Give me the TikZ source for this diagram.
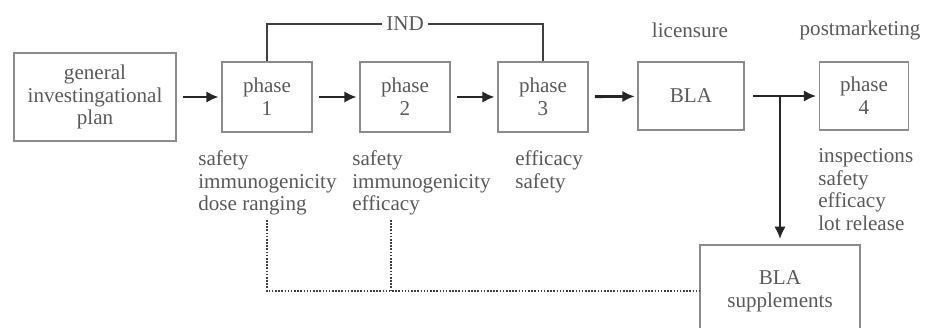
\documentclass[tikz,border=0pt]{standalone}
\usepackage{fontspec}
\setmainfont{Liberation Serif}
\usetikzlibrary{arrows.meta}

\begin{document}
\begin{tikzpicture}[x=0.02cm, y=-0.02cm,
		every node/.style={font=\fontsize{12}{13}\selectfont, text=black!65},
		box/.style={draw=black!45, line width=0.8pt, align=center, inner sep=0pt},
		flow/.style={draw=black!85, line width=1.6pt, -{Latex[length=7pt, width=6.5pt]}, shorten <=3.5pt, shorten >=1.5pt},
		indline/.style={draw=black!75, line width=1pt},
		dotline/.style={draw=black!75, line width=1.2pt, dash pattern=on 0.9pt off 0.9pt},
		lbl/.style={align=left, anchor=north west, inner sep=0pt}]
				% Рамка рисунка
				\useasboundingbox (0,0) rectangle (927,328);
				\clip (0,0) rectangle (927,328);
				
				% Блоки
				\node[box, minimum width=3.24cm, minimum height=1.76cm] (plan) at (95,97) {general\\investingational\\plan};
				\node[box, minimum width=1.8cm, minimum height=1.4cm] (p1) at (267,97) {phase\\1};
				\node[box, minimum width=1.8cm, minimum height=1.4cm] (p2) at (405,97) {phase\\2};
				\node[box, minimum width=1.8cm, minimum height=1.4cm] (p3) at (543,97) {phase\\3};
				\node[box, minimum width=2.12cm, minimum height=1.36cm] (bla) at (691,96) {BLA};
				\node[box, minimum width=1.78cm, minimum height=1.36cm] (p4) at (864,96) {phase\\4};
				\node[box, minimum width=3.2cm, minimum height=1.84cm] (supp) at (780,291) {BLA\\supplements};
				
				% Заголовки
				\node (lic) at (690,30) {licensure};
				\node (post) at (860,30) {postmarketing};
				\node[inner sep=2pt] (ind) at (405,24) {IND};
				
				% Стрелки
				\draw[flow] (plan) -- (p1);
				\draw[flow] (p1) -- (p2);
				\draw[flow] (p2) -- (p3);
				\draw[flow] (p3) -- (bla);
				\draw[flow, shorten <=5pt] (bla) -- (p4);
				\coordinate (split) at (supp.north |- bla.east);
				\draw[flow, shorten <=0pt, shorten >=3pt] (split) -- (supp);
				
				% Скобка IND
				\draw[indline] (p1.north) |- (ind.west);
				\draw[indline] (ind.east) -| (p3.north);
				
				% Пунктир к дополнениям
				\coordinate (d1) at (267,220);
				\coordinate (d2) at (391,220);
				\draw[dotline] (d1) |- (supp.west);
				\draw[dotline] (d2) -- (d2 |- supp.west);
				
				% Подписи
				\node[lbl] (s1) at (198,150) {safety\\immunogenicity\\dose ranging};
				\node[lbl] (s2) at (352,150) {safety\\immunogenicity\\efficacy};
				\node[lbl] (s3) at (515,150) {efficacy\\safety};
				\node[lbl] (s4) at (818,148) {inspections\\safety\\efficacy\\lot release};
			\end{tikzpicture}
\end{document}
